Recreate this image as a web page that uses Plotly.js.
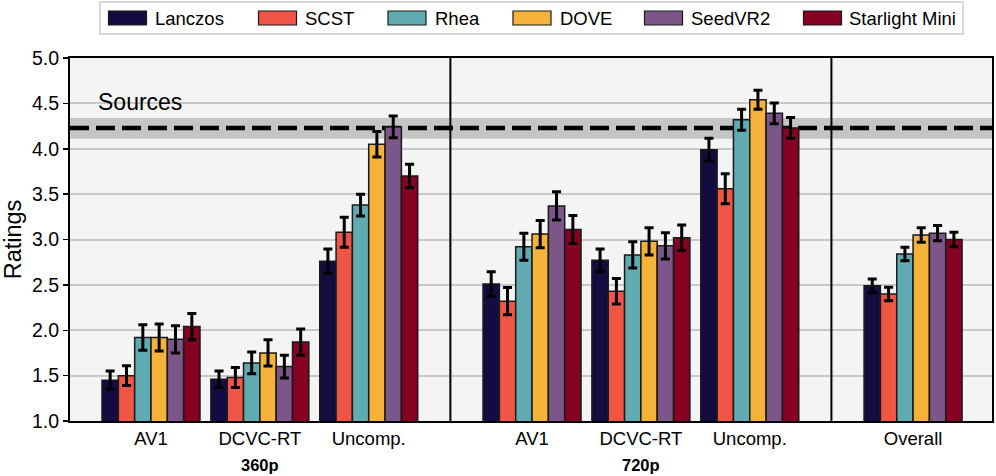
<!DOCTYPE html>
<html>
<head>
<meta charset="utf-8">
<script src="https://cdn.plot.ly/plotly-3.0.1.min.js"></script>
<style>html,body{margin:0;padding:0;background:#fff;}#chart{width:996px;height:476px;}</style>
</head>
<body>
<div id="chart"></div>
<script>
// ---- data ----
const categories = ['AV1', 'DCVC-RT', 'Uncomp.', 'AV1', 'DCVC-RT', 'Uncomp.', 'Overall'];
const resolutionLabels = ['360p', '720p'];
const seriesNames = ['Lanczos', 'SCST', 'Rhea', 'DOVE', 'SeedVR2', 'Starlight Mini'];
const lanczos   = [1.45, 1.46, 2.76, 2.51, 2.77, 3.99, 2.49];
const scst      = [1.50, 1.48, 3.08, 2.32, 2.43, 3.56, 2.40];
const rhea      = [1.92, 1.64, 3.38, 2.92, 2.83, 4.32, 2.84];
const dove      = [1.92, 1.75, 4.05, 3.06, 2.98, 4.54, 3.05];
const seedvr2   = [1.90, 1.60, 4.24, 3.37, 2.93, 4.39, 3.07];
const starlight = [2.04, 1.87, 3.70, 3.11, 3.02, 4.23, 3.00];
const lanczosErr   = [0.10, 0.09, 0.135, 0.135, 0.125, 0.125, 0.075];
const scstErr      = [0.11, 0.11, 0.165, 0.15, 0.14, 0.165, 0.075];
const rheaErr      = [0.14, 0.12, 0.12, 0.15, 0.145, 0.115, 0.075];
const doveErr      = [0.15, 0.145, 0.14, 0.15, 0.15, 0.105, 0.08];
const seedvr2Err   = [0.15, 0.125, 0.12, 0.155, 0.145, 0.115, 0.085];
const starlightErr = [0.145, 0.145, 0.13, 0.155, 0.14, 0.115, 0.08];
const sourcesMean = 4.23;
const sourcesLow = 4.11;
const sourcesHigh = 4.34;
const yTicks = [1.0, 1.5, 2.0, 2.5, 3.0, 3.5, 4.0, 4.5, 5.0];

// ---- layout constants ----
const groupPos = [0, 1, 2, 3.5, 4.5, 5.5, 7];
const resPos = [1, 4.5];
const dividers = [2.75, 6.25];
const colors = ['#140c40', '#ef5646', '#60abb2', '#f6b33c', '#7c5689', '#850222'];
const values = [lanczos, scst, rhea, dove, seedvr2, starlight];
const errors = [lanczosErr, scstErr, rheaErr, doveErr, seedvr2Err, starlightErr];
const FONT = 'Liberation Sans, Arial, sans-serif';

const traces = seriesNames.map((name, i) => ({
  type: 'bar',
  name: name,
  x: groupPos,
  y: values[i],
  base: 0,
  marker: {color: colors[i], line: {color: '#1a1a1a', width: 1.5}},
  error_y: {type: 'data', array: errors[i], visible: true, color: '#000', thickness: 3, width: 4.5},
  showlegend: false,
  hoverinfo: 'x+y'
}));

// plot-area geometry (pixels) for the hand-drawn legend
const W = 996, H = 476, mL = 70, mR = 4, mT = 58, mB = 55;
const pw = W - mL - mR, ph = H - mT - mB;
const px = v => (v - mL) / pw;
const py = v => (H - mB - v) / ph;

const shapes = [];
const annotations = [];

// sources band + dashed mean line
shapes.push({type: 'rect', xref: 'paper', yref: 'y', x0: 0, x1: 1, y0: sourcesLow, y1: sourcesHigh,
  fillcolor: 'rgba(150,150,150,0.5)', line: {width: 0}, layer: 'between'});
shapes.push({type: 'line', xref: 'paper', yref: 'y', x0: 0, x1: 1, y0: sourcesMean, y1: sourcesMean,
  line: {color: '#000', width: 4.5, dash: '19px,7px'}, layer: 'between'});
annotations.push({xref: 'paper', yref: 'y', x: px(96), y: 4.515, xanchor: 'left', yanchor: 'middle',
  text: 'Sources', showarrow: false, font: {family: FONT, size: 23, color: '#000'}});

// dividers
dividers.forEach(d => shapes.push({type: 'line', xref: 'x', yref: 'paper', x0: d, x1: d, y0: 0, y1: 1,
  line: {color: '#000', width: 2}, layer: 'above'}));

// resolution labels
resolutionLabels.forEach((t, i) => annotations.push({xref: 'x', yref: 'paper', x: resPos[i], y: py(465),
  yanchor: 'middle', text: '<b>' + t + '</b>', showarrow: false, font: {family: FONT, size: 16.5, color: '#000'}}));

// legend (drawn by hand to match rectangular swatches)
const legBox = {x0: 100, x1: 963, y0: 2, y1: 34};
shapes.push({type: 'rect', xref: 'paper', yref: 'paper', x0: px(legBox.x0), x1: px(legBox.x1),
  y0: py(legBox.y1), y1: py(legBox.y0), fillcolor: '#ffffff', line: {color: '#cccccc', width: 1.5}});
const symX = [108.5, 258.5, 388, 513, 644.5, 803.5];
const txtX = [152.5, 302.5, 433, 558, 689, 847];
seriesNames.forEach((name, i) => {
  shapes.push({type: 'rect', xref: 'paper', yref: 'paper', x0: px(symX[i]), x1: px(symX[i] + 38),
    y0: py(25), y1: py(11), fillcolor: colors[i], line: {color: '#1a1a1a', width: 1.2}});
  annotations.push({xref: 'paper', yref: 'paper', x: px(txtX[i]), y: py(18), xanchor: 'left', yanchor: 'middle',
    text: name, showarrow: false, font: {family: FONT, size: 18.5, color: '#000'}});
});

const layout = {
  width: W, height: H,
  margin: {l: mL, r: mR, t: mT, b: mB, pad: 0},
  paper_bgcolor: '#ffffff',
  plot_bgcolor: '#f4f4f4',
  barmode: 'group',
  bargap: 0.1,
  bargroupgap: 0,
  font: {family: FONT, color: '#000'},
  xaxis: {
    range: [-0.744, 7.725],
    tickmode: 'array', tickvals: groupPos, ticktext: categories,
    ticks: '', showgrid: false, zeroline: false,
    showline: true, linecolor: '#000', linewidth: 2, mirror: true,
    tickfont: {family: FONT, size: 18.5, color: '#000'}
  },
  yaxis: {
    range: [1, 5],
    tickmode: 'array', tickvals: yTicks, ticktext: yTicks.map(v => v.toFixed(1)),
    ticks: 'outside', ticklen: 5, tickwidth: 1.5, tickcolor: '#000',
    showgrid: true, gridcolor: '#c8c8c8', gridwidth: 2, zeroline: false,
    showline: true, linecolor: '#000', linewidth: 2, mirror: true,
    tickfont: {family: FONT, size: 19.5, color: '#000'},
    title: {text: 'Ratings', font: {family: FONT, size: 23.5, color: '#000'}, standoff: 6}
  },
  shapes: shapes,
  annotations: annotations
};

Plotly.newPlot('chart', traces, layout, {displayModeBar: false, staticPlot: true});
</script>
</body>
</html>
